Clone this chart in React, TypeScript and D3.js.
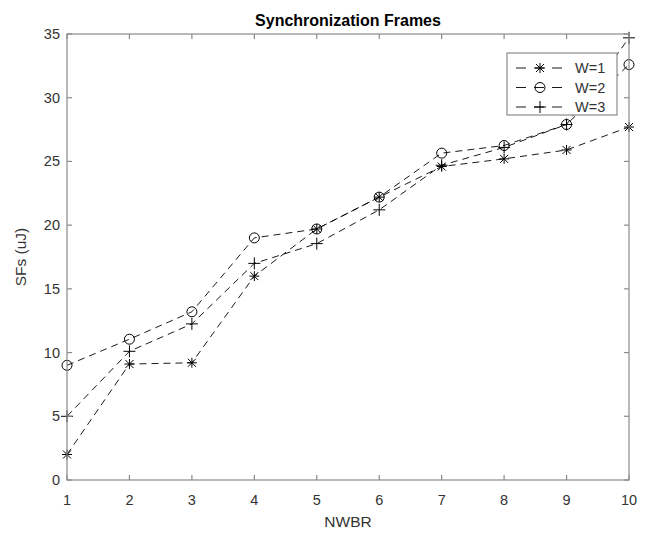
import React from "react";
import * as d3 from "d3";

const nwbr = [1, 2, 3, 4, 5, 6, 7, 8, 9, 10];
const w1 = [2.0, 9.1, 9.2, 16.0, 19.7, 22.2, 24.6, 25.2, 25.9, 27.7];
const w2 = [9.0, 11.05, 13.2, 19.0, 19.7, 22.2, 25.65, 26.25, 27.9, 32.6];
const w3 = [5.0, 10.1, 12.25, 17.0, 18.55, 21.2, 24.7, 26.1, 27.9, 34.7];
const seriesNames = ["W=1", "W=2", "W=3"];
const markers = ["asterisk", "circle", "plus"];
const xTicks = [1, 2, 3, 4, 5, 6, 7, 8, 9, 10];
const yTicks = [0, 5, 10, 15, 20, 25, 30, 35];

const W = 652, H = 535;
const m = { left: 67, right: 629, top: 34, bottom: 480 };
const font = "'Liberation Sans', Arial, Helvetica, sans-serif";

function Marker({ type, x, y }: { type: string; x: number; y: number }) {
  const s = 5;
  if (type === "circle") return <circle cx={x} cy={y} r={5} fill="none" stroke="#000" strokeWidth={1} />;
  if (type === "plus")
    return (
      <g stroke="#000" strokeWidth={1}>
        <line x1={x - 6} y1={y} x2={x + 6} y2={y} />
        <line x1={x} y1={y - 6} x2={x} y2={y + 6} />
      </g>
    );
  const d = s * 0.8;
  return (
    <g stroke="#000" strokeWidth={1}>
      <line x1={x - s} y1={y} x2={x + s} y2={y} />
      <line x1={x} y1={y - s} x2={x} y2={y + s} />
      <line x1={x - d} y1={y - d} x2={x + d} y2={y + d} />
      <line x1={x - d} y1={y + d} x2={x + d} y2={y - d} />
    </g>
  );
}

export default function App() {
  const x = d3.scaleLinear().domain([1, 10]).range([m.left, m.right]);
  const y = d3.scaleLinear().domain([0, 35]).range([m.bottom, m.top]);
  const line = d3.line<number>().x((_, i) => x(nwbr[i])).y((d) => y(d));
  const all = [w1, w2, w3];
  const axisColor = "#8a8a8a";
  const tl = 5;
  const lx = 507, ly = 53, lw = 110, lh = 62;
  return (
    <svg width={W} height={H} style={{ position: "absolute", left: 0, top: 0, background: "#fff" }}>
      <rect x={0} y={0} width={W} height={H} fill="#fff" />
      {all.map((s, k) => (
        <path key={k} d={line(s) || ""} fill="none" stroke="#000" strokeWidth={0.9} strokeDasharray="7,5" />
      ))}
      {all.map((s, k) =>
        s.map((v, i) => <Marker key={k + "-" + i} type={markers[k]} x={x(nwbr[i])} y={y(v)} />)
      )}
      <g stroke={axisColor} strokeWidth={1.2} fill="none">
        <rect x={m.left} y={m.top} width={m.right - m.left} height={m.bottom - m.top} />
        {xTicks.map((t) => (
          <g key={"xt" + t}>
            <line x1={x(t)} y1={m.bottom} x2={x(t)} y2={m.bottom - tl} />
            <line x1={x(t)} y1={m.top} x2={x(t)} y2={m.top + tl} />
          </g>
        ))}
        {yTicks.map((t) => (
          <g key={"yt" + t}>
            <line x1={m.left} y1={y(t)} x2={m.left + tl} y2={y(t)} />
            <line x1={m.right} y1={y(t)} x2={m.right - tl} y2={y(t)} />
          </g>
        ))}
      </g>
      <g fontFamily={font} fontSize={14.5} fill="#333">
        {xTicks.map((t) => (
          <text key={"xl" + t} x={x(t)} y={m.bottom + 25} textAnchor="middle">{t}</text>
        ))}
        {yTicks.map((t) => (
          <text key={"yl" + t} x={m.left - 7} y={y(t) + 5} textAnchor="end">{t}</text>
        ))}
        <text x={(m.left + m.right) / 2} y={527} textAnchor="middle" fontSize={15.5}>NWBR</text>
        <text transform={`translate(26,${(m.top + m.bottom) / 2}) rotate(-90)`} textAnchor="middle" fontSize={15.5}>SFs (uJ)</text>
        <text x={(m.left + m.right) / 2} y={26} textAnchor="middle" fontSize={16} fontWeight="bold" fill="#000">Synchronization Frames</text>
      </g>
      <rect x={lx} y={ly} width={lw} height={lh} fill="#fff" stroke={axisColor} strokeWidth={1.2} />
      {seriesNames.map((n, k) => {
        const yy = ly + 15 + k * 19.5;
        return (
          <g key={n}>
            <line x1={lx + 9} y1={yy} x2={lx + 57} y2={yy} stroke="#000" strokeWidth={0.9} strokeDasharray="10,8" />
            <Marker type={markers[k]} x={lx + 33} y={yy} />
            <text x={lx + 68} y={yy + 5} fontFamily={font} fontSize={14.5} fill="#333">{n}</text>
          </g>
        );
      })}
    </svg>
  );
}
